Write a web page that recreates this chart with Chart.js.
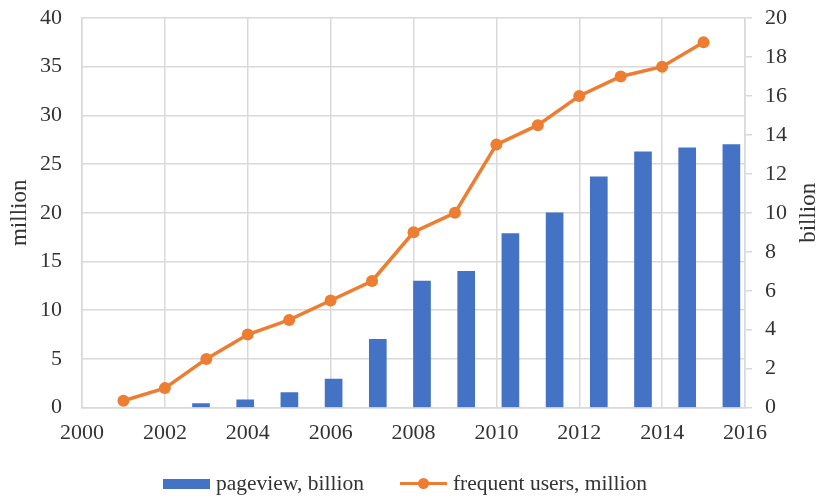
<!DOCTYPE html>
<html>
<head>
<meta charset="utf-8">
<script src="https://cdn.jsdelivr.net/npm/chart.js@4.4.1/dist/chart.umd.min.js"></script>
<style>
  body { margin: 0; background: #fff; }
  #wrap { position: relative; width: 823px; height: 499px; }
  #legend {
    position: absolute; left: 163px; top: 471px;
    font: 21.5px "Liberation Serif", serif; color: #333;
    display: flex; align-items: center; white-space: nowrap;
  }
  .sw-bar { width: 47px; height: 10px; background: #4472C4; margin-right: 6px; }
  .sw-line { position: relative; width: 47px; height: 3px; background: #ED7D31; margin-right: 6px; }
  .sw-line::after {
    content: ''; position: absolute; left: 18px; top: -4px;
    width: 11px; height: 11px; border-radius: 50%; background: #ED7D31;
  }
  .gap { width: 36px; }
</style>
</head>
<body>
<div id="wrap">
  <canvas id="chart" width="823" height="499"></canvas>
  <div id="legend">
    <div class="sw-bar"></div><span>pageview, billion</span>
    <div class="gap"></div>
    <div class="sw-line"></div><span>frequent users, million</span>
  </div>
</div>
<script>
// data (no bar visible for 2001-2002)
const years = [2001, 2002, 2003, 2004, 2005, 2006, 2007, 2008, 2009, 2010, 2011, 2012, 2013, 2014, 2015];
const pageviewBillion = [null, null, 0.2, 0.4, 0.77, 1.46, 3.5, 6.5, 7.0, 8.93, 10.0, 11.85, 13.13, 13.33, 13.5];
const usersMillion = [0.7, 2.0, 5.0, 7.5, 9.0, 11.0, 13.0, 18.0, 20.0, 27.0, 29.0, 32.0, 34.0, 35.0, 37.5];

const FONT = { family: '"Liberation Serif", serif', size: 22 };
const TITLE_FONT = { family: '"Liberation Serif", serif', size: 23 };
const TEXT = '#333';
const GRID = '#d9d9d9';

// right axis title reads bottom-to-top in the original, so draw it ourselves
const rightTitle = {
  id: 'rightTitle',
  afterDraw(chart) {
    const { ctx, chartArea } = chart;
    ctx.save();
    ctx.translate(809, (chartArea.top + chartArea.bottom) / 2);
    ctx.rotate(-Math.PI / 2);
    ctx.font = TITLE_FONT.size + 'px ' + TITLE_FONT.family;
    ctx.fillStyle = TEXT;
    ctx.textAlign = 'center';
    ctx.textBaseline = 'middle';
    ctx.fillText('billion', 0, 0);
    ctx.restore();
  }
};

// fixed widths, and no extra room above/below for the end labels
function fitY(width) {
  return s => { s.width = width; s.paddingTop = 0; s.paddingBottom = 0; };
}

new Chart(document.getElementById('chart'), {
  data: {
    labels: years,
    datasets: [{
      type: 'line',
      label: 'frequent users, million',
      data: years.map((y, i) => ({ x: y, y: usersMillion[i] })),
      xAxisID: 'x',
      yAxisID: 'y',
      borderColor: '#ED7D31',
      backgroundColor: '#ED7D31',
      borderWidth: 3.5,
      pointRadius: 6,
      pointBorderWidth: 0,
      pointBackgroundColor: '#ED7D31',
      order: 0
    }, {
      type: 'bar',
      label: 'pageview, billion',
      data: pageviewBillion,
      xAxisID: 'xc',
      yAxisID: 'yR',
      backgroundColor: '#4472C4',
      barThickness: 17,
      order: 1
    }]
  },
  options: {
    responsive: false,
    animation: false,
    layout: { padding: { top: 18, bottom: 41 } },
    plugins: { legend: { display: false }, tooltip: { enabled: false } },
    scales: {
      x: {
        type: 'linear', position: 'bottom', min: 2000, max: 2016,
        ticks: { stepSize: 2, font: FONT, color: TEXT, padding: 12, callback: v => String(v) },
        grid: { color: GRID, lineWidth: 1.5, drawTicks: false },
        border: { color: GRID, width: 1.5 }
      },
      xc: { type: 'category', labels: years, display: false, offset: true },
      y: {
        position: 'left', min: 0, max: 40,
        ticks: { stepSize: 5, font: FONT, color: TEXT, padding: 20 },
        grid: { color: GRID, lineWidth: 1.5, drawTicks: false },
        border: { color: GRID, width: 1.5 },
        title: { display: true, text: 'million', font: TITLE_FONT, color: TEXT, padding: { top: 6, bottom: 0 } },
        afterFit: fitY(82)
      },
      yR: {
        position: 'right', min: 0, max: 20,
        ticks: { stepSize: 2, font: FONT, color: TEXT, padding: 13 },
        grid: { drawOnChartArea: false, color: GRID, lineWidth: 1.5, tickLength: 7 },
        border: { color: GRID, width: 1.5 },
        afterFit: fitY(78)
      }
    }
  },
  plugins: [rightTitle]
});
</script>
</body>
</html>
